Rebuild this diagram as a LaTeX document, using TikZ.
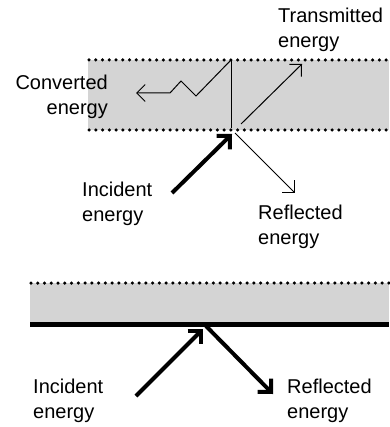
\documentclass[tikz,border=0pt]{standalone}
\usepackage{fontspec}
\setmainfont{Liberation Sans}
\usetikzlibrary{arrows.meta}
\begin{document}
\begin{tikzpicture}[x=1pt,y=-1pt,
  lbl/.style={inner sep=0pt, font=\fontsize{20}{25}\selectfont},
  dotmark/.style={fill=black},
  thinarrow/.style={line width=1pt, -{Straight Barb[length=8.5pt,width=17pt]}},
  thickarrow/.style={line width=4pt, -{Straight Barb[length=9.5pt,width=19pt]}},
  band/.style={fill=black!17, draw=none}]
\useasboundingbox (0,0) rectangle (389,427);
% ---------- top panel ----------
\fill[band] (88,60) rectangle (389,130);
\foreach \i in {0,...,44} {
  \fill[dotmark] (89+\i*6.75,60) circle (1.75pt);
  \fill[dotmark] (89+\i*6.75,130) circle (1.75pt);
}
\coordinate (vtop) at (231,60);
\coordinate (vbot) at (231,128);
\draw[line width=1pt] (vtop) -- (vbot);
\coordinate (z1) at (196,96);
\coordinate (z2) at (181,81);
\coordinate (z3) at (170,93);
\coordinate (cend) at (136,93);
\draw[thinarrow] (vtop) -- (z1) -- (z2) -- (z3) -- (cend);
\coordinate (tstart) at (241,124);
\coordinate (tend) at (302,64);
\draw[thinarrow] (tstart) -- (tend);
\coordinate (istart) at (172,193);
\coordinate (iend) at (232,134);
\draw[thickarrow] (istart) -- (iend);
\coordinate (rstart) at (235,133);
\coordinate (rend) at (295,193);
\draw[thinarrow] (rstart) -- (rend);
\node[lbl, anchor=north west, align=left] (trans) at (278,8) {Transmitted\\energy};
\node[lbl, anchor=north east, align=right] (conv) at (108,75) {Converted\\energy};
\node[lbl, anchor=north west, align=left] (inc1) at (82,182) {Incident\\energy};
\node[lbl, anchor=north west, align=left] (ref1) at (258,205) {Reflected\\energy};
% ---------- bottom panel ----------
\fill[band] (30,283) rectangle (389,324);
\foreach \i in {0,...,53} {
  \fill[dotmark] (31+\i*6.75,283) circle (1.75pt);
}
\coordinate (bbl) at (30,324); \coordinate (bbr) at (389,324);
\draw[line width=5pt] (bbl) -- (bbr);
\coordinate (bistart) at (136,396);
\coordinate (biend) at (203,329);
\draw[thickarrow] (bistart) -- (biend);
\coordinate (brstart) at (206,326);
\coordinate (brend) at (273,394);
\draw[thickarrow] (brstart) -- (brend);
\node[lbl, anchor=north west, align=left] (inc2) at (33,379) {Incident\\energy};
\node[lbl, anchor=north west, align=left] (ref2) at (287,379) {Reflected\\energy};
\end{tikzpicture}
\end{document}
